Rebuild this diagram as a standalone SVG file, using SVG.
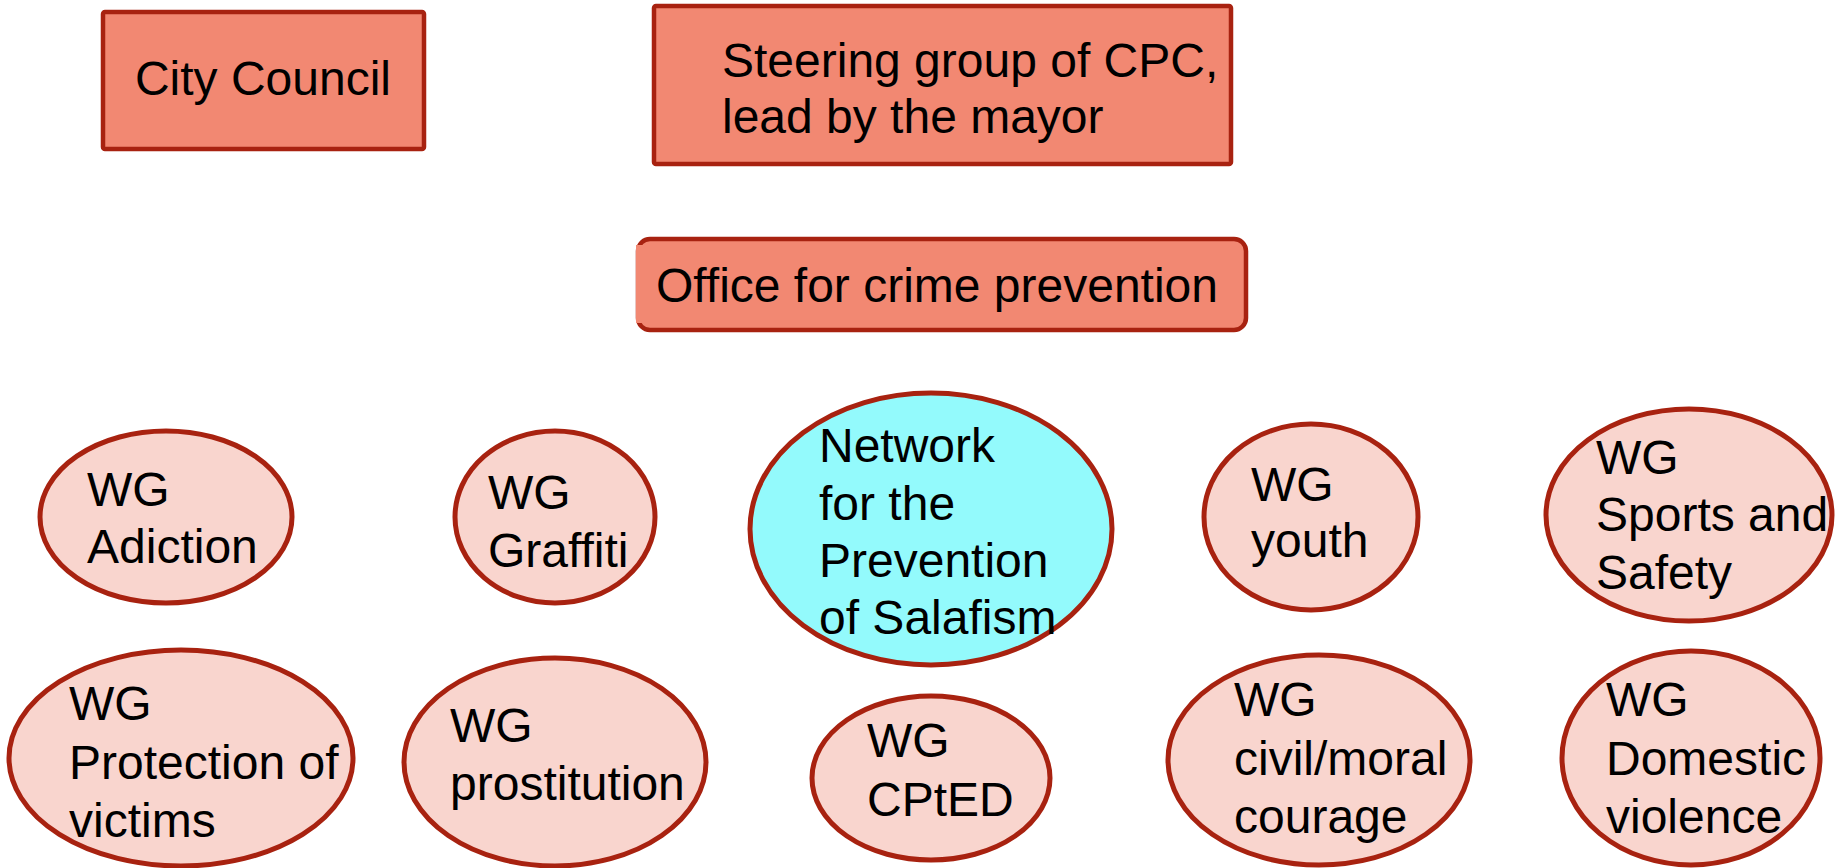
<svg xmlns="http://www.w3.org/2000/svg" width="1835" height="868" viewBox="0 0 1835 868">
<style>
.box{fill:#F28872;stroke:#A82210;stroke-width:4.5}
.wg{fill:#F9D5CE;stroke:#A82210;stroke-width:5}
.net{fill:#93FAFC;stroke:#A82210;stroke-width:5}
text{font-family:"Liberation Sans",Arial,sans-serif;font-size:48px;fill:#000}
</style>
<rect width="1835" height="868" fill="#fff"/>
<g id="city-council">
<rect class="box" x="103" y="12" width="321" height="137" rx="2"/>
<text x="263" y="95" text-anchor="middle">City Council</text>
</g>
<g id="steering-group">
<rect class="box" x="654" y="6" width="577" height="158" rx="2"/>
<text x="722" y="77">Steering group of CPC,</text>
<text x="722" y="133">lead by the mayor</text>
</g>
<g id="office">
<rect class="box" x="638" y="239" width="608" height="91" rx="12"/>
<rect x="636" y="245" width="30" height="78" fill="#F28872"/>
<text x="656" y="302">Office for crime prevention</text>
</g>
<g id="wg-adiction">
<ellipse class="wg" cx="166" cy="517" rx="126" ry="86"/>
<text x="87" y="506">WG</text>
<text x="87" y="563">Adiction</text>
</g>
<g id="wg-graffiti">
<ellipse class="wg" cx="555" cy="517" rx="100" ry="86"/>
<text x="488" y="509">WG</text>
<text x="488" y="567">Graffiti</text>
</g>
<g id="network-salafism">
<ellipse class="net" cx="931" cy="529" rx="181" ry="136"/>
<text x="819" y="462">Network</text>
<text x="819" y="520">for the</text>
<text x="819" y="577">Prevention</text>
<text x="819" y="634">of Salafism</text>
</g>
<g id="wg-youth">
<ellipse class="wg" cx="1311" cy="517" rx="107" ry="93"/>
<text x="1251" y="501">WG</text>
<text x="1251" y="557">youth</text>
</g>
<g id="wg-sports">
<ellipse class="wg" cx="1689" cy="515" rx="143" ry="106"/>
<text x="1596" y="474">WG</text>
<text x="1596" y="531">Sports and</text>
<text x="1596" y="589">Safety</text>
</g>
<g id="wg-protection">
<ellipse class="wg" cx="181" cy="758" rx="172" ry="108"/>
<text x="69" y="720">WG</text>
<text x="69" y="779">Protection of</text>
<text x="69" y="837">victims</text>
</g>
<g id="wg-prostitution">
<ellipse class="wg" cx="555" cy="762" rx="151" ry="104"/>
<text x="450" y="742">WG</text>
<text x="450" y="800">prostitution</text>
</g>
<g id="wg-cpted">
<ellipse class="wg" cx="931" cy="778" rx="119" ry="82"/>
<text x="867" y="757">WG</text>
<text x="867" y="816">CPtED</text>
</g>
<g id="wg-civil">
<ellipse class="wg" cx="1319" cy="760" rx="151" ry="105"/>
<text x="1234" y="716">WG</text>
<text x="1234" y="775">civil/moral</text>
<text x="1234" y="833">courage</text>
</g>
<g id="wg-domestic">
<ellipse class="wg" cx="1691" cy="758" rx="129" ry="107"/>
<text x="1606" y="716">WG</text>
<text x="1606" y="775">Domestic</text>
<text x="1606" y="833">violence</text>
</g>
<g id="connectors"/>
</svg>
